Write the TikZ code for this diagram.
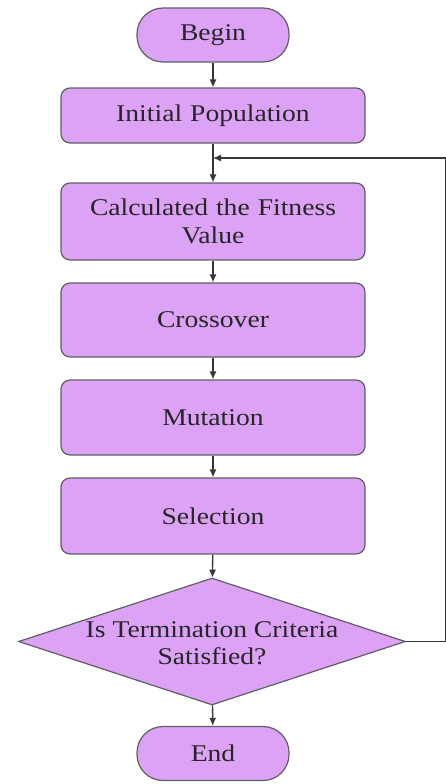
\documentclass[tikz,border=0pt]{standalone}
\usepackage{fontspec}
\setmainfont{Liberation Serif}[FakeStretch=1.15]
\usetikzlibrary{shapes.geometric,arrows.meta}
\definecolor{boxfill}{RGB}{220,162,246}
\definecolor{boxline}{RGB}{95,95,100}
\definecolor{flowline}{RGB}{55,55,55}
\begin{document}
\begin{tikzpicture}[x=1pt, y=1pt, >={Latex[length=8pt,width=7pt]},
	term/.style={draw=boxline, line width=1.2pt, fill=boxfill, rounded corners=26pt, minimum width=152pt, minimum height=54pt, font=\fontsize{24}{28}\selectfont, text=black!85},
	proc/.style={draw=boxline, line width=1.2pt, fill=boxfill, rounded corners=9pt, minimum width=304pt, text width=290pt, align=center, font=\fontsize{24}{28}\selectfont, text=black!85},
	decision/.style={diamond, draw=boxline, line width=1.2pt, fill=boxfill, inner sep=0pt, minimum width=387pt, minimum height=127pt},
	flow/.style={->, draw=flowline, line width=1.3pt}]
	\useasboundingbox (0,0) rectangle (446,-784);
	
	% Anfang und Ende
	\node[term] (begin) at (213,-35) {Begin};
	\node[term] (end) at (213,-753.5) {End};
	
	% Schritte des Algorithmus
	\node[proc, minimum height=55pt] (init) at (213,-115.5) {Initial Population};
	\node[proc, minimum height=77pt] (fit) at (213,-221.5) {Calculated the Fitness\\Value};
	\node[proc, minimum height=74pt] (cross) at (213,-320) {Crossover};
	\node[proc, minimum height=75pt] (mut) at (213,-417.5) {Mutation};
	\node[proc, minimum height=76pt] (sel) at (213,-516) {Selection};
	
	% Abbruchbedingung
	\node[decision] (check) at (212,-641.5) {};
	\node[font=\fontsize{24}{27}\selectfont, text=black!85, align=center] (checktext) at (212,-643) {Is Termination Criteria\\Satisfied?};
	
	% Verbindungen
	\coordinate (loop) at (213,-158);
	\draw[flow] (begin) -- (init);
	\draw[flow] (init) -- (fit);
	\draw[flow] (fit) -- (cross);
	\draw[flow] (cross) -- (mut);
	\draw[flow] (mut) -- (sel);
	\draw[flow] (sel) -- (check);
	\draw[flow] (check) -- (end);
	
	% Rueckfuehrung zur Fitness
	\draw[flow] (check.east) -- (445.5,-641.5) |- (loop);
\end{tikzpicture}
\end{document}
